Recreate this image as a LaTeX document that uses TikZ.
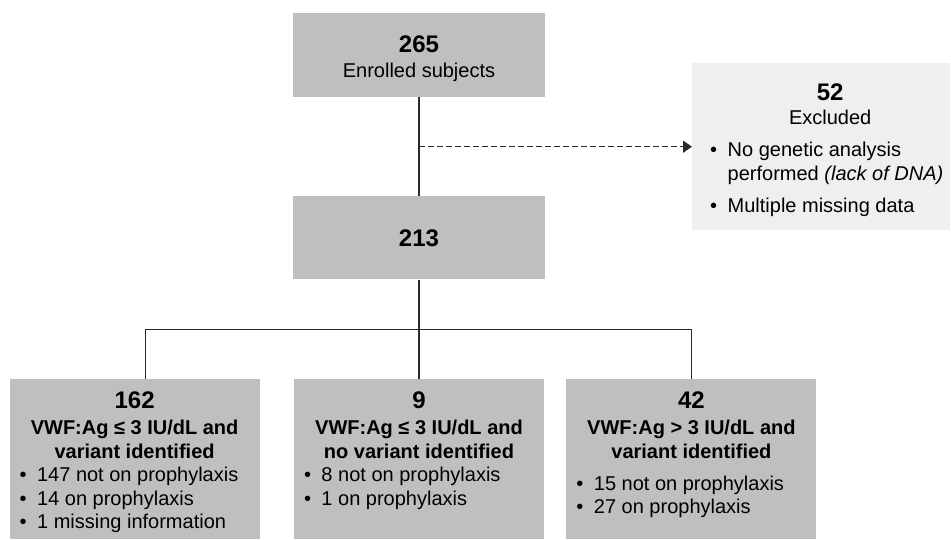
\documentclass[tikz,border=0pt]{standalone}
\usepackage{fontspec}
\setmainfont{Liberation Sans}
\usetikzlibrary{positioning,arrows.meta}
\definecolor{boxgray}{HTML}{BFBFBF}
\definecolor{exclgray}{HTML}{EFEFEF}
\definecolor{linegray}{HTML}{2A2A2A}
\newcommand{\txtsize}{\fontsize{20pt}{23.5pt}\selectfont}
\newcommand{\numsize}{\fontsize{24pt}{26pt}\selectfont\bfseries}
\newcommand{\bitem}[1]{\par\hangindent=17.5pt\hangafter=1\noindent\makebox[17.5pt][l]{\textbullet}#1}
\tikzset{
    stage/.style={rectangle,fill=boxgray,minimum width=252pt,inner sep=0pt,
                  align=center,font=\txtsize},
    group/.style={rectangle,fill=boxgray,inner xsep=10pt,inner ysep=12.8pt,font=\txtsize},
    excl/.style={rectangle,fill=exclgray,inner xsep=0pt,inner ysep=20.5pt,font=\txtsize},
    link/.style={draw=linegray,line width=1.5pt},
    dlink/.style={draw=linegray,line width=1.5pt,dash pattern=on 6pt off 3pt,
                  -{Triangle[length=9pt,width=12pt]}},
}

\begin{document}
\begin{tikzpicture}[x=1pt,y=-1pt]
    \useasboundingbox (0,0) rectangle (951,539);

    % ---- enrolment ----
    \node[stage, minimum height=84pt] (top) at (419,55)
        {\rule{0pt}{25pt}{\numsize 265}\\[1.5pt]Enrolled subjects};
    \node[stage, minimum height=83pt, below=99pt of top] (b213) {\numsize 213};

    \coordinate[below=49.5pt of top.south] (mid);
    \coordinate[below=50pt of b213.south] (split);

    % ---- excluded ----
    \node[excl, right=273pt of mid] (excl)
        {\hspace*{18pt}\parbox[c][126pt][t]{240pt}{\centering
         {\numsize 52}\par\vspace{0.8pt}
         Excluded\par\vspace{8.5pt}
         \raggedright
         \bitem{No genetic analysis\newline performed \textit{(lack of DNA)}}\par\vspace{8.5pt}
         \bitem{Multiple missing data}}};

    % ---- groups ----
    \node[group, below=99pt of b213] (g2)
        {\parbox[c][134.4pt][t]{230pt}{\centering
         {\numsize 9}\par\vspace{2.7pt}
         \textbf{VWF:Ag ≤ 3 IU/dL and}\par
         \textbf{no variant identified}\par
         \raggedright
         \bitem{8 not on prophylaxis}
         \bitem{1 on prophylaxis}}};
    \node[group, left=34pt of g2] (g1)
        {\parbox[c][134.4pt][t]{230pt}{\centering
         {\numsize 162}\par\vspace{2.7pt}
         \textbf{VWF:Ag ≤ 3 IU/dL and}\par
         \textbf{variant identified}\par
         \raggedright
         \bitem{147 not on prophylaxis}
         \bitem{14 on prophylaxis}
         \bitem{1 missing information}}};
    \node[group, right=22pt of g2] (g3)
        {\parbox[c][134.4pt][t]{230pt}{\centering
         {\numsize 42}\par\vspace{2.7pt}
         \textbf{VWF:Ag > 3 IU/dL and}\par
         \textbf{variant identified}\par\vspace{8.5pt}
         \raggedright
         \bitem{15 not on prophylaxis}
         \bitem{27 on prophylaxis}}};

    % ---- connectors ----
    \draw[link] (top) -- (b213);
    \draw[dlink] (mid) -- (excl);
    \draw[link] (b213) -- (g2);
    \draw[link] ([xshift=11pt]g1.north) |- (split) -| (g3.north);

\end{tikzpicture}
\end{document}
